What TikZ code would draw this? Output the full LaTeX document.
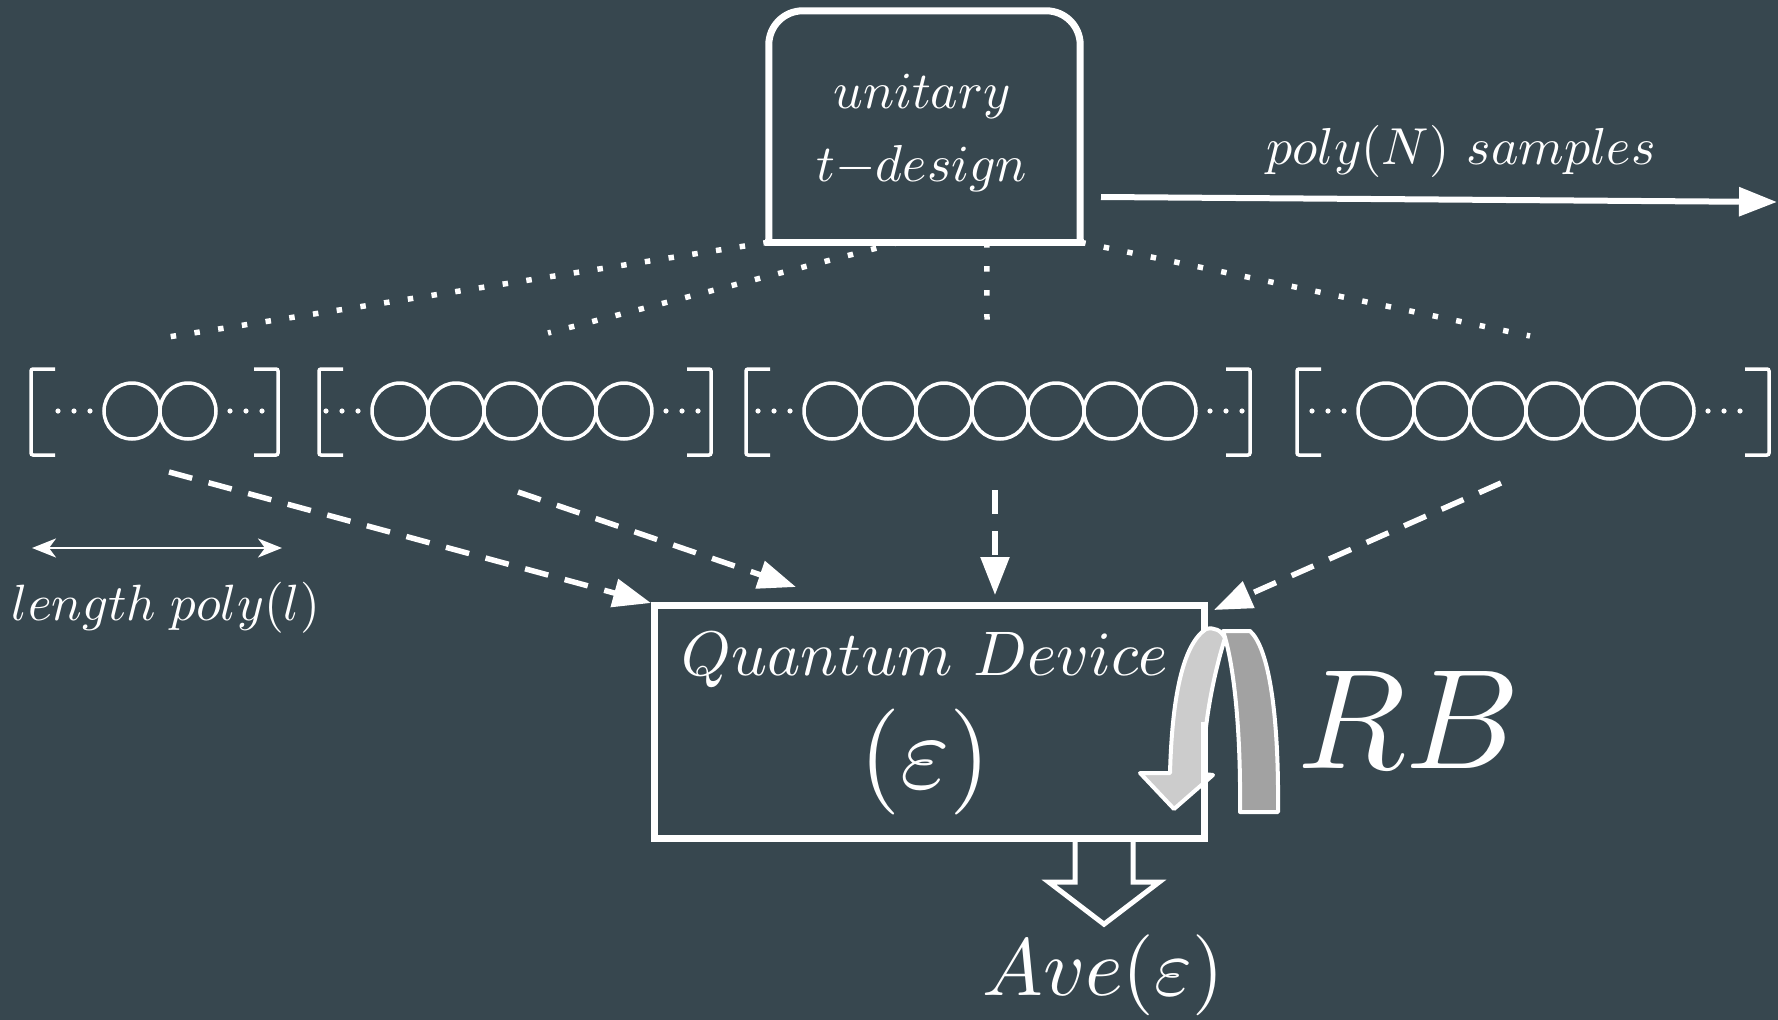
\documentclass[tikz,border=0pt]{standalone}
\usetikzlibrary{arrows.meta,calc}
\definecolor{slate}{HTML}{37474F}
\definecolor{bandfront}{HTML}{CCCCCC}
\definecolor{bandback}{HTML}{A2A2A2}
% text set at 10pt and enlarged to the wanted size (#1 = size/10)
\newcommand{\bigtxt}[2]{\scalebox{#1}{$#2$}}
\begin{document}
\begin{tikzpicture}[x=1pt,y=-1pt,
  txt/.style={text=white,inner sep=0pt,anchor=base},
  frame/.style={draw=white,line width=7pt},
  dotline/.style={draw=white,line width=5.5pt,dash pattern=on 5.5pt off 18.5pt},
  dasharrow/.style={draw=white,line width=5.5pt,dash pattern=on 24pt off 17pt,
                    -{Triangle[length=38pt,width=28pt]}},
  chain/.style={draw=white,line width=3.5pt},
  brk/.style={draw=white,line width=3.5pt,rounded corners=2pt},
  band/.style={draw=white,line width=4pt,line join=round},
]
\fill[slate] (0,0) rectangle (1778,1020);
\useasboundingbox (0,0) rectangle (1778,1020);

% ---------- unitary t-design box ----------
\node[inner sep=0pt,minimum width=311pt,minimum height=231pt] (ud) at (924.5,126.5) {};

% dotted fan towards the gate sequences
\coordinate (d1) at (168,337);
\coordinate (d2) at (548,333);
\coordinate (d3) at (987,321);
\coordinate (d4) at (1530,336);
\draw[dotline] (ud.south west) -- (d1);
\draw[dotline] ($(ud.south west)!0.42!(ud.south east)$) -- (d2);
\draw[dotline] ($(ud.south west)!0.7!(ud.south east)$) -- (d3);
\draw[dotline] (ud.south east) -- (d4);

\draw[frame,line cap=rect,rounded corners=34pt]
  (ud.south west) -- (ud.north west) -- (ud.north east) -- (ud.south east);
\draw[frame,line cap=rect] (ud.south west) -- (ud.south east);

\node[txt] (ut1) at (922,108) {\bigtxt{5.2}{unitary}};
\node[txt] (ut2) at (922,181) {\bigtxt{5.2}{t{-}design}};

% ---------- samples arrow ----------
\node[txt] (pn) at (1461,164) {\bigtxt{5.2}{poly(N)\ samples}};
\coordinate (pa) at (1101,197);
\coordinate (pb) at (1777,202);
\draw[white,line width=6pt,-{Triangle[length=38pt,width=28pt]}] (pa) -- (pb);

% ---------- gate sequences ----------
\foreach \xl/\xr/\cf/\num in {31/278/132/2,319/711/400/5,746/1250/832/7,1297/1769/1386/6}{
  \draw[brk] (\xl+24,369) -- (\xl,369) -- (\xl,455) -- (\xl+24,455);
  \draw[brk] (\xr-24,369) -- (\xr,369) -- (\xr,455) -- (\xr-24,455);
  \foreach \ci in {1,...,\num}
    \draw[chain] ({\cf+(\ci-1)*56},411) circle[radius=28];
  \foreach \dd in {14,30,46}{
    \fill[white] (\cf-28-\dd,411) circle[radius=2.6];
    \fill[white] ({\cf+(\num-1)*56+28+\dd},411) circle[radius=2.6];
  }
}

% sequence length marker
\coordinate (la) at (32,548);
\coordinate (lb) at (282,548);
\draw[white,line width=2.7pt,
  {Stealth[length=24pt,width=19pt,inset=7pt]}-{Stealth[length=24pt,width=19pt,inset=7pt]}]
  (la) -- (lb);
\node[txt] (len) at (166,620) {\bigtxt{5.1}{length\;poly(l)}};

% ---------- quantum device ----------
\node[inner sep=0pt,minimum width=549pt,minimum height=232pt] (qd) at (929.5,722) {};

% output block arrow
\draw[white,line width=5pt,fill=slate,line join=miter]
  ($(qd.south)+(145.5,0)$) -- ++(0,44) -- ++(-26,0) -- ++(55,42)
  -- ++(55,-42) -- ++(-26,0) -- ++(0,-44);

\draw[frame] (qd.south west) rectangle (qd.north east);

% dashed inputs
\coordinate (s1) at (169,472);  \coordinate (t1) at (651,603);
\coordinate (s2) at (518,492);  \coordinate (t2) at (796,587);
\coordinate (s3) at (995,490);  \coordinate (t3) at (995,595);
\coordinate (s4) at (1501,483); \coordinate (t4) at (1214,610);
\draw[dasharrow] (s1) -- (t1);
\draw[dasharrow] (s2) -- (t2);
\draw[dasharrow] (s3) -- (t3);
\draw[dasharrow] (s4) -- (t4);

\node[txt] (qt) at (925,675) {\bigtxt{6.3}{Quantum\ Device}};
\node[txt] (qe) at (925,788) {\bigtxt{10.6}{(\varepsilon)}};

% ---------- RB loop arrow ----------
\draw[band,fill=bandback]
  (1240,812) -- (1278,812) .. controls (1279,715) and (1269,648) .. (1250,631)
  -- (1223,631) .. controls (1233,660) and (1241,725) .. (1240,812) -- cycle;
\draw[band,fill=bandfront]
  (1170,773) .. controls (1172,700) and (1182,645) .. (1206,629)
  .. controls (1214,627) and (1221,630) .. (1225,638)
  .. controls (1212,680) and (1203,730) .. (1203,774)
  -- (1213,775) -- (1174,809) -- (1140,773) -- cycle;
\draw[frame] (qd.east) -- (qd.south east);

\node[txt] (rb) at (1409,768) {\bigtxt{14.2}{RB}};

% ---------- result ----------
\node[txt] (ave) at (1103,995) {\bigtxt{8.1}{Ave(\varepsilon)}};
\end{tikzpicture}
\end{document}
